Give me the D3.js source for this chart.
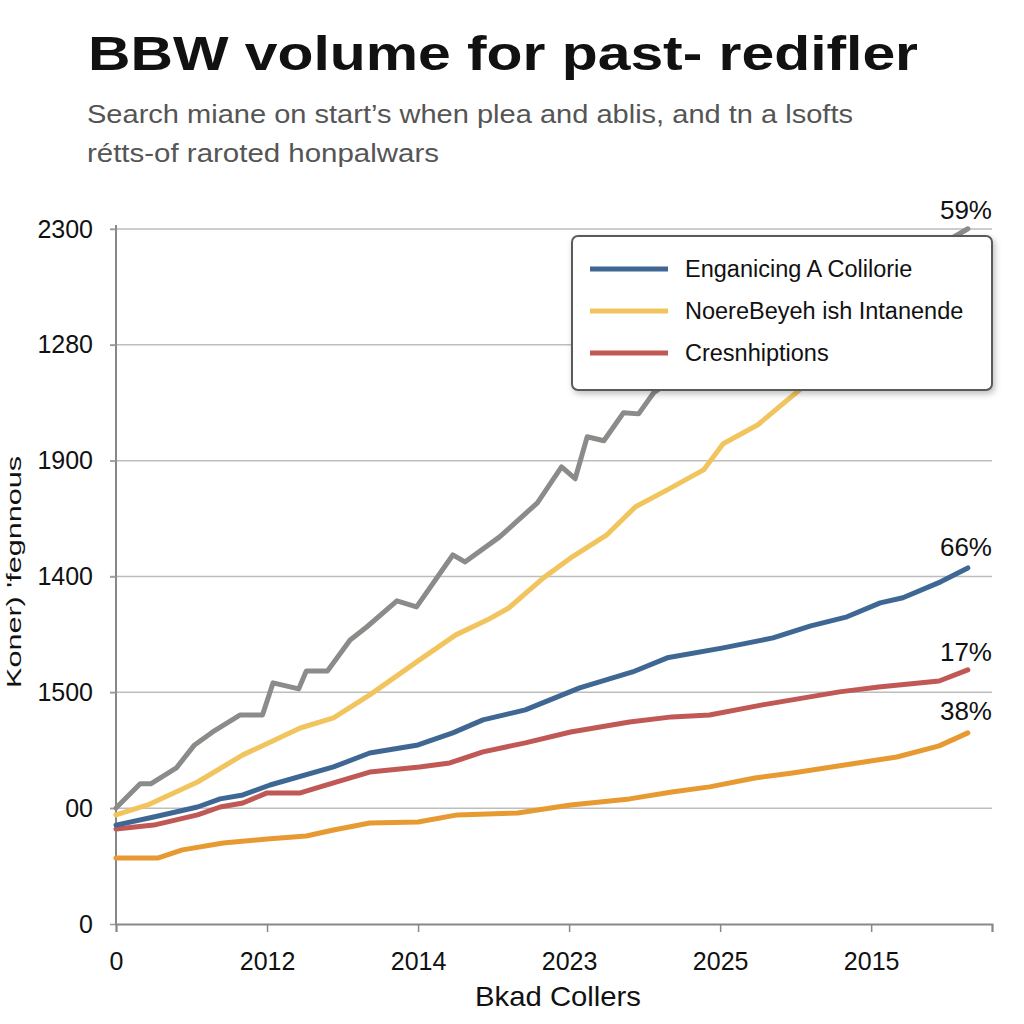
<!DOCTYPE html>
<html>
<head>
<meta charset="utf-8">
<script src="https://cdn.jsdelivr.net/npm/d3@7"></script>
<style>
  html, body { margin: 0; padding: 0; background: #fff; }
  svg { display: block; font-family: "Liberation Sans", Arial, sans-serif; }
</style>
</head>
<body>
<div id="chart"></div>
<script>
"use strict";

// tick labels (as printed on the chart)
const xTickValues = [0, 1, 2, 3, 4, 5, 5.8];
const xTickLabels = ["0", "2012", "2014", "2023", "2025", "2015", ""];
const yTickValues = [0, 500, 1000, 1500, 2000, 2500, 3000];
const yTickLabels = ["0", "00", "1500", "1400", "1900", "1280", "2300"];

// series as [x, value]
const grayData = [
  [0, 501], [0.16, 605], [0.23, 605], [0.4, 674], [0.52, 773], [0.64, 829],
  [0.82, 902], [0.97, 902], [1.04, 1041], [1.21, 1015], [1.26, 1092], [1.4, 1092],
  [1.55, 1226], [1.66, 1282], [1.86, 1395], [1.99, 1369], [2.23, 1593], [2.31, 1563],
  [2.54, 1671], [2.79, 1818], [2.95, 1973], [3.04, 1922], [3.12, 2103], [3.23, 2086],
  [3.36, 2207], [3.46, 2202], [3.56, 2293], [3.87, 2435], [4.26, 2565], [4.66, 2694],
  [5.06, 2824], [5.46, 2932], [5.64, 3001]
];
const yellowData = [
  [0, 471], [0.21, 514], [0.54, 613], [0.84, 730], [1.22, 846], [1.44, 890],
  [1.68, 989], [2.01, 1140], [2.25, 1248], [2.46, 1313], [2.6, 1364], [2.83, 1494],
  [3.01, 1580], [3.25, 1680], [3.44, 1801], [3.65, 1874], [3.89, 1960], [4.02, 2073],
  [4.25, 2155], [4.51, 2297], [4.86, 2479], [5.26, 2673], [5.64, 2858]
];
const blueData = [
  [0, 427], [0.25, 462], [0.54, 505], [0.69, 540], [0.84, 557], [1.02, 600],
  [1.44, 678], [1.68, 738], [2.0, 773], [2.23, 825], [2.43, 881], [2.71, 924],
  [3.07, 1019], [3.42, 1088], [3.65, 1149], [4.02, 1192], [4.35, 1235], [4.6, 1287],
  [4.84, 1326], [5.06, 1386], [5.21, 1408], [5.46, 1477], [5.64, 1537]
];
const redData = [
  [0, 410], [0.25, 427], [0.54, 471], [0.69, 505], [0.84, 522], [1.0, 566],
  [1.22, 566], [1.44, 609], [1.68, 656], [2.01, 678], [2.21, 695], [2.43, 743],
  [2.71, 782], [3.01, 829], [3.4, 872], [3.68, 894], [3.93, 902], [4.28, 946],
  [4.79, 1002], [5.05, 1023], [5.45, 1049], [5.64, 1097]
];
const orangeData = [
  [0, 285], [0.28, 285], [0.44, 320], [0.71, 350], [1.0, 367], [1.26, 380],
  [1.44, 406], [1.68, 436], [2.0, 440], [2.26, 471], [2.66, 479], [3.01, 514],
  [3.4, 540], [3.68, 570], [3.93, 592], [4.23, 630], [4.48, 652], [4.91, 695],
  [5.17, 721], [5.45, 769], [5.64, 825]
];

const legendNames = ["Enganicing A Colilorie", "NoereBeyeh ish Intanende", "Cresnhiptions"];
const endLabels = ["59%", "66%", "17%", "38%"];

const colors = {
  gray: "#8b8b89",
  yellow: "#f1c45e",
  blue: "#3e6893",
  red: "#c05955",
  orange: "#e79a32"
};

const width = 1024;
const height = 1024;
const margin = { top: 229, right: 32, bottom: 100, left: 116 };

const svg = d3
  .select("#chart")
  .append("svg")
  .attr("width", width)
  .attr("height", height);

const defs = svg.append("defs");
const shadow = defs.append("filter").attr("id", "shadow")
  .attr("x", "-10%").attr("y", "-10%").attr("width", "130%").attr("height", "140%");
shadow.append("feDropShadow")
  .attr("dx", 2).attr("dy", 3).attr("stdDeviation", 3)
  .attr("flood-color", "#000").attr("flood-opacity", 0.25);

// title + subtitle
svg.append("text")
  .attr("x", 88).attr("y", 70)
  .attr("font-size", 48).attr("font-weight", "bold").attr("fill", "#111")
  .attr("textLength", 830).attr("lengthAdjust", "spacingAndGlyphs")
  .text("BBW volume for past- redifler");

svg.append("text")
  .attr("x", 87).attr("y", 123)
  .attr("font-size", 26).attr("fill", "#555")
  .attr("textLength", 766).attr("lengthAdjust", "spacingAndGlyphs")
  .text("Search miane on start\u2019s when plea and ablis, and tn a lsofts");

svg.append("text")
  .attr("x", 87).attr("y", 162)
  .attr("font-size", 26).attr("fill", "#555")
  .attr("textLength", 352).attr("lengthAdjust", "spacingAndGlyphs")
  .text("r\u00e9tts-of raroted honpalwars");

// scales
const x = d3.scaleLinear().domain([0, 5.8]).range([margin.left, width - margin.right]);
const y = d3.scaleLinear().domain([0, 3000]).range([height - margin.bottom, margin.top]);

// gridlines
svg.append("g")
  .selectAll("line")
  .data(yTickValues.slice(1))
  .enter()
  .append("line")
  .attr("x1", x(0) - 6)
  .attr("x2", x(5.8))
  .attr("y1", (d) => y(d))
  .attr("y2", (d) => y(d))
  .attr("stroke", "#bdbdbd")
  .attr("stroke-width", 1.5);

// y axis
const yAxis = svg.append("g")
  .attr("transform", `translate(${x(0)},0)`)
  .call(d3.axisLeft(y).tickValues(yTickValues).tickSize(6).tickPadding(17)
    .tickFormat((d, i) => yTickLabels[i]));
yAxis.select(".domain").attr("stroke", "#888").attr("stroke-width", 2)
  .attr("d", `M0,${y(3000) - 4}V${y(0)}`);
yAxis.selectAll(".tick line").attr("stroke", "#999").attr("stroke-width", 1.5);
yAxis.selectAll(".tick text")
  .attr("font-size", 25).attr("fill", "#111")
  .attr("font-family", "Liberation Sans, Arial, sans-serif");

// x axis
const xAxis = svg.append("g")
  .attr("transform", `translate(0,${y(0)})`)
  .call(d3.axisBottom(x).tickValues(xTickValues).tickSize(8).tickPadding(20)
    .tickFormat((d, i) => xTickLabels[i]));
xAxis.select(".domain").attr("stroke", "#888").attr("stroke-width", 2);
xAxis.selectAll(".tick line").attr("stroke", "#888").attr("stroke-width", 1.5);
xAxis.selectAll(".tick text")
  .attr("font-size", 25).attr("fill", "#111")
  .attr("font-family", "Liberation Sans, Arial, sans-serif");

// axis titles
svg.append("text")
  .attr("x", 558).attr("y", 1006)
  .attr("text-anchor", "middle")
  .attr("font-size", 28).attr("fill", "#111")
  .attr("textLength", 166).attr("lengthAdjust", "spacingAndGlyphs")
  .text("Bkad Collers");

svg.append("text")
  .attr("transform", "translate(21,572) rotate(-90)")
  .attr("text-anchor", "middle")
  .attr("font-size", 20).attr("fill", "#111")
  .attr("textLength", 232).attr("lengthAdjust", "spacingAndGlyphs")
  .text("Koner) 'fegnnous");

// lines
const line = d3.line()
  .x((d) => x(d[0]))
  .y((d) => y(d[1]));

const series = [
  { data: orangeData, color: colors.orange },
  { data: redData, color: colors.red },
  { data: blueData, color: colors.blue },
  { data: yellowData, color: colors.yellow },
  { data: grayData, color: colors.gray }
];

svg.append("g")
  .selectAll("path")
  .data(series)
  .enter()
  .append("path")
  .attr("d", (d) => line(d.data))
  .attr("fill", "none")
  .attr("stroke", (d) => d.color)
  .attr("stroke-width", 5)
  .attr("stroke-linejoin", "round")
  .attr("stroke-linecap", "round");

// legend
const legend = svg.append("g").attr("transform", "translate(572,236)");
legend.append("rect")
  .attr("width", 420).attr("height", 154)
  .attr("rx", 6)
  .attr("fill", "#fff")
  .attr("stroke", "#5a5a5a")
  .attr("stroke-width", 2)
  .attr("filter", "url(#shadow)");

const legendColors = [colors.blue, colors.yellow, colors.red];
const items = legend.selectAll(".item")
  .data(legendNames)
  .enter()
  .append("g")
  .attr("class", "item")
  .attr("transform", (d, i) => `translate(0,${33 + i * 42})`);
items.append("line")
  .attr("x1", 18).attr("x2", 96)
  .attr("stroke", (d, i) => legendColors[i])
  .attr("stroke-width", 5);
items.append("text")
  .attr("x", 113).attr("y", 8)
  .attr("font-size", 23.5).attr("fill", "#111")
  .text((d) => d);

// end labels
const labelSeries = [grayData, blueData, redData, orangeData];
const labelOffsets = [-10, -12, -9, -13];
svg.append("g")
  .selectAll("text")
  .data(labelSeries)
  .enter()
  .append("text")
  .attr("x", x(5.8))
  .attr("y", (d, i) => y(d[d.length - 1][1]) + labelOffsets[i])
  .attr("text-anchor", "end")
  .attr("font-size", 26)
  .attr("fill", "#111")
  .text((d, i) => endLabels[i]);
</script>
</body>
</html>
